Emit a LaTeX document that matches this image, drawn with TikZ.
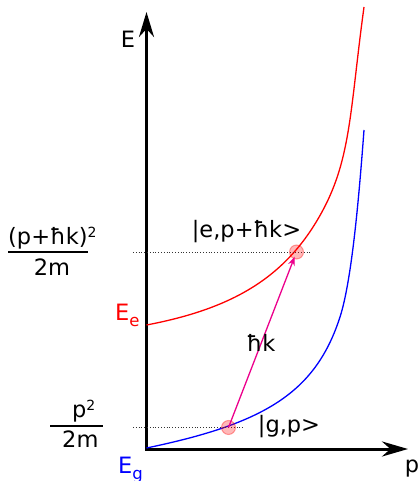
\documentclass[tikz,border=0pt]{standalone}
\usepackage{fontspec}
\setmainfont{DejaVu Sans}
\usetikzlibrary{arrows.meta}
\tikzset{
  axis/.style={line width=3pt, line join=miter},
  curve/.style={line width=1.3pt},
  guide/.style={line width=0.8pt, dotted, black!80},
  spot/.style={circle, minimum size=14pt, inner sep=0pt, fill=red, fill opacity=0.28, draw=red, draw opacity=0.35, line width=1pt},
  lbl/.style={inner sep=0pt, font=\fontsize{22.5}{27}\selectfont},
  kick/.style={magenta, line width=1.3pt, -{Stealth[length=9pt, width=7pt]}},
}
\newcommand{\supr}[1]{\raisebox{7pt}{\fontsize{14}{14}\selectfont #1}}
\newcommand{\subr}[1]{\raisebox{-6pt}{\fontsize{16.5}{16}\selectfont #1}}
\begin{document}
\begin{tikzpicture}[x=1pt, y=-1pt]
\useasboundingbox (0,0) rectangle (419,481);
% axes
\coordinate (ytip) at (146.5,12);
\coordinate (origin) at (146.5,449);
\coordinate (xtip) at (408,449);
\draw[axis, {Stealth[length=25pt, width=15pt]}-{Stealth[length=26pt, width=15pt]}] (ytip) -- (origin) -- (xtip);
\node[lbl] (E) at (128,39) {E};
\node[lbl, anchor=base] (P) at (412,472) {p};
% curves
\draw[curve, red] (146.5,325) .. controls (234.9,308.2) and (287.7,276) .. (323,210)
  .. controls (351.2,157.2) and (350.2,108) .. (364,7);
\draw[curve, blue] (146.5,448) .. controls (264,423.6) and (315.4,393.2) .. (340,317)
  .. controls (352.3,278.9) and (359.5,189.8) .. (364,130);
% guides
\coordinate (g1l) at (133,252);
\coordinate (g1r) at (310,252);
\coordinate (g2l) at (133,427.5);
\coordinate (g2r) at (243,427.5);
\draw[guide] (g1l) -- (g1r);
\draw[guide] (g2l) -- (g2r);
% states
\node[spot] (se) at (296.5,252) {};
\node[spot] (sg) at (228.5,427.5) {};
\draw[kick, shorten >=5pt] (sg.center) -- (se.center);
\node[lbl] (le) at (246.5,232) {|e,p+ħk>};
\node[lbl] (lg) at (289,427) {|g,p>};
\node[lbl] (lk) at (261,343) {ħk};
% level labels
\node[lbl, anchor=base west, red] (Ee) at (115,320) {E\subr{e}};
\node[lbl, anchor=base west, blue] (Eg) at (118,473) {E\subr{g}};
% fractions
\node[lbl, anchor=base west] (n1) at (8,244) {(p+ħk)\supr{2}};
\coordinate (f1l) at (8,252);
\coordinate (f1r) at (88,252);
\draw[line width=1.5pt] (f1l) -- (f1r);
\node[lbl, anchor=base] (d1) at (52,275) {2m};
\node[lbl, anchor=base west] (n2) at (72,417) {p\supr{2}};
\coordinate (f2l) at (50,426);
\coordinate (f2r) at (103,426);
\draw[line width=1.5pt] (f2l) -- (f2r);
\node[lbl, anchor=base west] (d2) at (62,447) {2m};
\end{tikzpicture}
\end{document}
